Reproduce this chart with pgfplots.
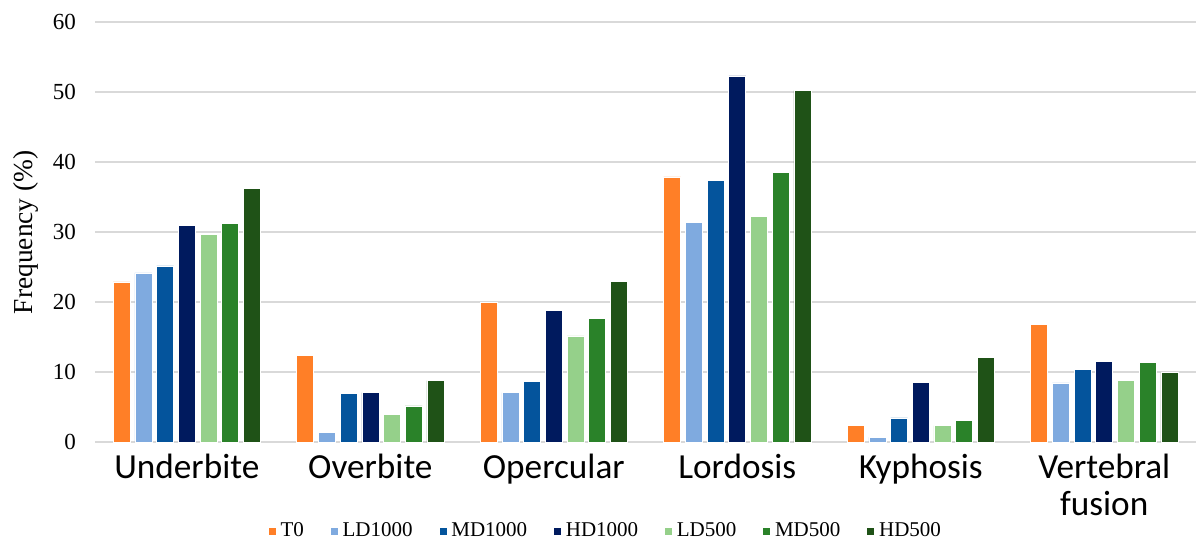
\documentclass[border=0pt]{standalone}
\usepackage{pgfplots}
\pgfplotsset{compat=1.18}
\usepackage{fontspec}
\setmainfont{Liberation Serif}
\newfontfamily\catfont{Carlito}

\definecolor{cT0}{HTML}{FF7F27}
\definecolor{cLD1}{HTML}{7FAADF}
\definecolor{cMD1}{HTML}{04549C}
\definecolor{cHD1}{HTML}{001A5E}
\definecolor{cLD5}{HTML}{95D08A}
\definecolor{cMD5}{HTML}{2A8229}
\definecolor{cHD5}{HTML}{1F5217}
\definecolor{gridc}{HTML}{D9D9D9}

\begin{document}
\begin{tikzpicture}
\begin{axis}[
    scale only axis,
    width=550pt, height=210pt,
    ybar=2.35pt, bar width=8.5pt,
    xmin=-0.5, xmax=5.5,
    ymin=0, ymax=60,
    ytick={0,10,...,60},
    xtick={0,1,2,3,4,5},
    xticklabels={Underbite,Overbite,Opercular,Lordosis,Kyphosis,{Vertebral\\fusion}},
    xticklabel style={font=\catfont\fontsize{17.6}{18.5}\selectfont, align=center,
      anchor=north, inner sep=0pt, yshift=-1.5pt},
    yticklabel style={font=\fontsize{11.5}{13}\selectfont, xshift=-6pt},
    /pgf/number format/assume math mode=true,
    ymajorgrids, grid style={gridc, line width=1pt},
    axis line style={draw=none},
    major tick style={draw=none},
    ylabel={Frequency (\%)},
    ylabel style={font=\fontsize{13.7}{15}\selectfont,
      at={([xshift=-34.5pt]axis description cs:0,0.5)}, anchor=center},
    legend style={at={([xshift=-19.5pt,yshift=-44.5pt]axis description cs:0.5,0)}, anchor=center,
      draw=none, legend columns=7, font=\fontsize{10.5}{12}\selectfont,
      /tikz/every even column/.append style={column sep=11pt}},
    legend image code/.code={\fill[#1] (0pt,-2pt) rectangle (4pt,2pt);},
    every axis plot/.append style={draw=white, line width=0.3pt},
]
\addplot[fill=cT0]  coordinates {(0,22.9) (1,12.4) (2,20.0) (3,37.9) (4,2.4) (5,16.8)};
\addplot[fill=cLD1] coordinates {(0,24.2) (1,1.4) (2,7.1) (3,31.4) (4,0.7) (5,8.5)};
\addplot[fill=cMD1] coordinates {(0,25.2) (1,6.95) (2,8.7) (3,37.4) (4,3.5) (5,10.4)};
\addplot[fill=cHD1] coordinates {(0,31.0) (1,7.1) (2,18.8) (3,52.3) (4,8.6) (5,11.6)};
\addplot[fill=cLD5] coordinates {(0,29.7) (1,4.0) (2,15.2) (3,32.3) (4,2.4) (5,8.8)};
\addplot[fill=cMD5] coordinates {(0,31.3) (1,5.2) (2,17.7) (3,38.5) (4,3.1) (5,11.4)};
\addplot[fill=cHD5] coordinates {(0,36.3) (1,8.8) (2,23.0) (3,50.2) (4,12.1) (5,9.95)};
\legend{T0,LD1000,MD1000,HD1000,LD500,MD500,HD500}
\end{axis}
\pgfresetboundingbox
\path[use as bounding box] ([shift={(-47.5pt,-50.5pt)}]current axis.south west)
  rectangle ([shift={(0.5pt,11pt)}]current axis.north east);
\end{tikzpicture}
\end{document}
